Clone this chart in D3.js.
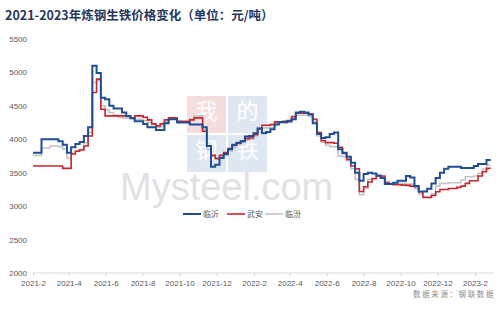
<!DOCTYPE html>
<html>
<head>
<meta charset="utf-8">
<script src="https://cdn.jsdelivr.net/npm/d3@7/dist/d3.min.js"></script>
<style>
  body { margin: 0; background: #fff; }
  svg { display: block; font-family: "Liberation Sans", "Noto Sans CJK SC", sans-serif; }
</style>
</head>
<body>
<svg width="500" height="309"></svg>
<script>
// weekly observations, one per Monday, 2021-02-01 .. 2023-02-27
var weeks = d3.timeMonday.range(new Date(2021, 1, 1), new Date(2023, 1, 28));

var linyi = [ // 临沂
  3800, 3800, 4000, 4000, 4000, 4000, 3970, 3920, 3800, 3880,
  3930, 3960, 4050, 4180, 5100, 4990, 4620, 4600, 4500, 4460,
  4460, 4400, 4350, 4320, 4270, 4270, 4230, 4180, 4180, 4140,
  4140, 4240, 4300, 4300, 4250, 4250, 4250, 4220, 4220, 4220,
  4180, 3900, 3590, 3620, 3720, 3780, 3850, 3920, 3950, 3970,
  4040, 4050, 4090, 4160, 4090, 4110, 4150, 4220, 4260, 4260,
  4270, 4300, 4400, 4410, 4400, 4370, 4240, 4080, 4020, 4030,
  4080, 4100, 3850, 3790, 3740, 3650, 3500, 3380, 3480, 3500,
  3490, 3460, 3420, 3330, 3330, 3350, 3380, 3380, 3450, 3430,
  3300, 3220, 3220, 3260, 3340, 3420, 3500, 3560, 3590, 3590,
  3590, 3570, 3570, 3570, 3600, 3630, 3630, 3690, 3690
];
var wuan = [ // 武安
  3600, 3600, 3600, 3600, 3600, 3600, 3600, 3565, 3565, 3780,
  3820, 3840, 3900, 4050, 4700, 4900, 4450, 4350, 4350, 4350,
  4350, 4350, 4350, 4320, 4350, 4350, 4330, 4290, 4230, 4200,
  4230, 4290, 4320, 4320, 4270, 4270, 4270, 4290, 4320, 4320,
  4120, 3900, 3760, 3710, 3760, 3800, 3860, 3910, 3940, 3970,
  4010, 4020, 4070, 4160, 4210, 4210, 4220, 4260, 4260, 4270,
  4280, 4340, 4390, 4390, 4390, 4380, 4300, 4100, 3980, 3950,
  3950, 3940, 3880, 3800, 3700, 3600, 3560, 3220, 3290, 3360,
  3410, 3450, 3450, 3350, 3330, 3320, 3320, 3315, 3310, 3300,
  3290, 3215, 3130, 3130, 3160, 3215, 3250, 3250, 3265, 3265,
  3280, 3300, 3340, 3380, 3380, 3450, 3515, 3565, 3565
];
var linfen = [ // 临汾
  3760, 3760, 3870, 3870, 3900, 3900, 3890, 3850, 3720, 3790,
  3830, 3850, 3950, 4100, 4850, 4880, 4500, 4440, 4400, 4360,
  4330, 4320, 4320, 4300, 4300, 4300, 4280, 4250, 4220, 4180,
  4190, 4260, 4310, 4310, 4270, 4260, 4260, 4300, 4350, 4350,
  4150, 3850, 3760, 3720, 3720, 3760, 3820, 3880, 3920, 3950,
  3990, 4000, 4050, 4160, 4170, 4170, 4180, 4240, 4240, 4240,
  4250, 4320, 4360, 4360, 4360, 4340, 4270, 4050, 3960, 3910,
  3890, 3890, 3750, 3740, 3680, 3560, 3400, 3170, 3270, 3400,
  3420, 3450, 3440, 3370, 3340, 3340, 3340, 3340, 3330, 3330,
  3260, 3180, 3140, 3140, 3180, 3300, 3340, 3340, 3350, 3350,
  3350, 3390, 3440, 3440, 3450, 3490, 3550, 3615, 3615
];

var seriesNames = ["临沂", "武安", "临汾"];
var seriesColors = ["#1f4e96", "#c8262e", "#c4c4c4"];
var yTicks = [2000, 2500, 3000, 3500, 4000, 4500, 5000, 5500];
var xTicks = d3.range(0, 25, 2).map(function(m) { return new Date(2021, 1 + m, 1); });

var svg = d3.select("svg");

var x = d3.scaleTime()
    .domain([new Date(2021, 1, 1), new Date(2023, 1, 1)])
    .range([33, 475]);

var y = d3.scaleLinear()
    .domain([2000, 5500])
    .range([273, 39]);

// title
svg.append("text")
    .attr("x", 5)
    .attr("y", 20)
    .attr("font-size", 12.5)
    .attr("font-weight", "bold")
    .attr("fill", "#26385c")
    .attr("font-family", "'Noto Sans CJK SC', sans-serif")
    .text("2021-2023年炼钢生铁价格变化（单位：元/吨）");

// watermark, kept faint
var wm = svg.append("g").attr("opacity", 0.45);
var boxes = [
  { t: "我", c: "#eab3b5", col: 0, row: 0 },
  { t: "的", c: "#b9cde4", col: 1, row: 0 },
  { t: "钢", c: "#b9cde4", col: 0, row: 1 },
  { t: "铁", c: "#b9cde4", col: 1, row: 1 }
];
boxes.forEach(function(b) {
  var bx = 187 + b.col * 41, by = 96 + b.row * 39;
  wm.append("rect").attr("x", bx).attr("y", by).attr("width", 39).attr("height", 37).attr("fill", b.c);
  wm.append("text").attr("x", bx + 19.5).attr("y", by + 23)
    .attr("text-anchor", "middle").attr("font-size", 22).attr("fill", "#fff")
    .attr("font-family", "'Noto Sans CJK SC', sans-serif")
    .text(b.t);
});
wm.append("text")
    .attr("x", 120)
    .attr("y", 199.5)
    .attr("font-size", 38)
    .attr("fill", "#bdbdbd")
    .attr("font-family", "'Liberation Sans', sans-serif")
    .text("Mysteel.com");

// y axis labels (no axis line)
var yAxis = svg.append("g")
    .attr("transform", "translate(27,0)")
    .call(d3.axisLeft(y).tickValues(yTicks).tickSize(0).tickPadding(0).tickFormat(d3.format("d")));
yAxis.select(".domain").remove();
yAxis.selectAll("text").attr("font-size", 8).attr("fill", "#595959").attr("font-family", "'Liberation Sans', sans-serif");

// x axis
var xAxis = svg.append("g")
    .attr("transform", "translate(0,273)")
    .call(d3.axisBottom(x).tickValues(xTicks).tickSize(3).tickPadding(4).tickFormat(d3.timeFormat("%Y-%-m")));
xAxis.select(".domain").remove();
xAxis.append("line").attr("x1", 33).attr("x2", 493).attr("stroke", "#d9d9d9");
xAxis.selectAll(".tick line").attr("stroke", "#d9d9d9");
xAxis.selectAll("text").attr("font-size", 8).attr("fill", "#595959").attr("font-family", "'Liberation Sans', sans-serif");

// lines
var line = d3.line()
    .curve(d3.curveStepAfter)
    .x(function(d) { return x(d[0]); })
    .y(function(d) { return y(d[1]); });

var allSeries = [linyi, wuan, linfen];
var widths = [2, 1.6, 1.6];
[2, 1, 0].forEach(function(k) {
  svg.append("path")
      .datum(weeks.map(function(w, i) { return [w, allSeries[k][i]]; }))
      .attr("fill", "none")
      .attr("stroke", seriesColors[k])
      .attr("stroke-width", widths[k])
      .attr("d", line);
});

// legend
var legendX = [183, 227, 265];
var legend = svg.append("g").attr("transform", "translate(0,214)");
seriesNames.forEach(function(n, i) {
  legend.append("line")
      .attr("x1", legendX[i]).attr("x2", legendX[i] + 18)
      .attr("stroke", seriesColors[i]).attr("stroke-width", i == 0 ? 2 : 1.6);
  legend.append("text")
      .attr("x", legendX[i] + 20)
      .attr("y", 3)
      .attr("font-size", 8)
      .attr("fill", "#595959")
      .attr("font-family", "'Noto Sans CJK SC', sans-serif")
      .text(n);
});

// source note
svg.append("text")
    .attr("x", 495)
    .attr("y", 297)
    .attr("text-anchor", "end")
    .attr("font-size", 7.5)
    .attr("letter-spacing", 1.6)
    .attr("fill", "#8c8c8c")
    .attr("font-family", "'Noto Sans CJK SC', sans-serif")
    .text("数据来源：钢联数据");
</script>
</body>
</html>
